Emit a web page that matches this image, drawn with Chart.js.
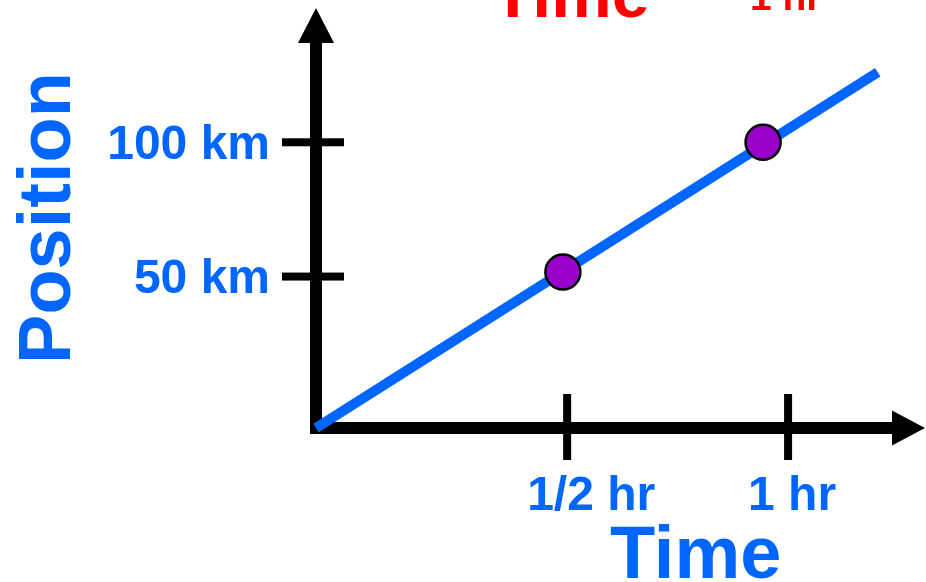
<!DOCTYPE html>
<html>
<head>
<meta charset="utf-8">
<script src="https://cdn.jsdelivr.net/npm/chart.js@4"></script>
<style>
  body { margin: 0; background: #fff; }
  #wrap { position: relative; width: 926px; height: 582px; overflow: hidden; }
  .lbl { position: absolute; font-family: 'Liberation Sans', Arial, sans-serif; font-weight: bold; line-height: 1; white-space: nowrap; }
</style>
</head>
<body>
<div id="wrap">
  <canvas id="chart"></canvas>
  <div class="lbl" style="left:492px; top:-41px; font-size:68px; color:#ff0000;">Time</div>
  <div class="lbl" style="left:750px; top:-23px; font-size:39px; color:#ff0000;">1 hr</div>
  <div class="lbl" style="left:610px; top:516px; font-size:74px; color:#0066ff;">Time</div>
</div>
<script>
// values (time in hours, position in km)
const xTickValues = [0.532, 1];
const xTickLabels = ['1/2 hr', '1 hr'];
const yTickValues = [53, 100];
const yTickLabels = ['50 km', '100 km'];

const lineTimes = [0, 1.19];
const linePositions = [0, 124.5];

const markTimes = [0.523, 0.947];
const markPositions = [54.6, 100];

const xMax = 1.29;
const yMax = 147;

const blue = '#0066ff';

Chart.defaults.font.family = "'Liberation Sans', Arial, sans-serif";

//Draws the black axes with arrow heads and the tick marks
const axesPlugin = {
    id: 'axes',
    beforeDatasetsDraw(chart) {
        const ctx = chart.ctx;
        const xs = chart.scales.x;
        const ys = chart.scales.y;
        const x0 = xs.getPixelForValue(0);
        const y0 = ys.getPixelForValue(0);
        const top = ys.top;
        const right = xs.right;
        ctx.save();
        ctx.fillStyle = '#000';

        // y axis + arrow
        ctx.fillRect(x0 - 6, top + 35, 12, y0 + 6 - (top + 35));
        ctx.beginPath();
        ctx.moveTo(x0, top);
        ctx.lineTo(x0 - 18, top + 35);
        ctx.lineTo(x0 + 18, top + 35);
        ctx.closePath();
        ctx.fill();

        // x axis + arrow
        ctx.fillRect(x0 - 6, y0 - 6, right - 33 - (x0 - 6), 12);
        ctx.beginPath();
        ctx.moveTo(right, y0);
        ctx.lineTo(right - 33, y0 - 17.5);
        ctx.lineTo(right - 33, y0 + 17.5);
        ctx.closePath();
        ctx.fill();

        // tick marks
        yTickValues.forEach(v => {
            const py = ys.getPixelForValue(v);
            ctx.fillRect(x0 - 34, py - 4, 62, 8);
        });
        xTickValues.forEach(v => {
            const px = xs.getPixelForValue(v);
            ctx.fillRect(px - 4, y0 - 34, 8, 66);
        });
        ctx.restore();
    }
};

new Chart(document.getElementById('chart'), {
    type: 'line',
    data: {
        datasets: [
            {
                data: markTimes.map((t, i) => ({x: t, y: markPositions[i]})),
                showLine: false,
                pointRadius: 17.5,
                pointBackgroundColor: '#9900cc',
                pointBorderColor: '#000',
                pointBorderWidth: 2.5,
                order: 1,
                clip: false
            },
            {
                data: lineTimes.map((t, i) => ({x: t, y: linePositions[i]})),
                borderColor: blue,
                borderWidth: 10,
                borderCapStyle: 'butt',
                pointRadius: 0,
                order: 2,
                clip: false
            }
        ]
    },
    options: {
        responsive: true,
        maintainAspectRatio: false,
        animation: false,
        layout: { autoPadding: false, padding: { top: 8, right: 1, left: 0, bottom: 0 } },
        plugins: { legend: { display: false }, tooltip: { enabled: false } },
        scales: {
            x: {
                type: 'linear',
                min: 0,
                max: xMax,
                grid: { display: false, drawTicks: false },
                border: { display: false },
                afterBuildTicks: s => { s.ticks = xTickValues.map(v => ({value: v})); },
                afterFit: s => { s.height = 154; s.paddingLeft = 0; s.paddingRight = 0; },
                ticks: {
                    autoSkip: false,
                    maxRotation: 0,
                    align: 'start',
                    labelOffset: -40,
                    padding: 40,
                    color: blue,
                    font: { size: 48, weight: 'bold' },
                    callback: (v, i) => xTickLabels[i]
                }
            },
            y: {
                type: 'linear',
                min: 0,
                max: yMax,
                grid: { display: false, drawTicks: false },
                border: { display: false },
                afterBuildTicks: s => { s.ticks = yTickValues.map(v => ({value: v})); },
                afterFit: s => { s.width = 316; s.paddingTop = 0; s.paddingBottom = 0; },
                ticks: {
                    autoSkip: false,
                    padding: 46,
                    labelOffset: 3,
                    color: blue,
                    font: { size: 48, weight: 'bold' },
                    callback: (v, i) => yTickLabels[i]
                },
                title: {
                    display: true,
                    text: 'Position',
                    color: blue,
                    font: { size: 74, weight: 'bold' },
                    padding: { top: 5, bottom: 0 }
                }
            }
        }
    },
    plugins: [axesPlugin]
});
</script>
</body>
</html>
